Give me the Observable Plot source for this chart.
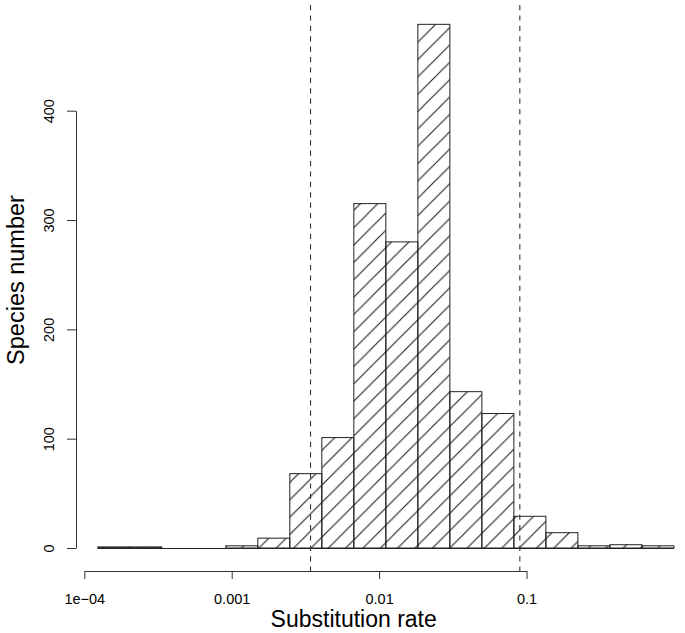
<!DOCTYPE html>
<html><head><meta charset="utf-8">
<script src="https://cdn.jsdelivr.net/npm/d3@7"></script>
<script src="https://cdn.jsdelivr.net/npm/@observablehq/plot@0.6"></script>
<style>body{margin:0;background:#fff} svg{display:block}</style>
</head><body><div id="chart"></div>
<script>
// Histogram bins: edges on natural-log scale of the substitution rate
const binEdgesLn = [-9, -8.5, -8, -7.5, -7, -6.5, -6, -5.5, -5, -4.5, -4, -3.5, -3, -2.5, -2, -1.5, -1, -0.5, 0];
const binCounts  = [1, 1, 0, 0, 2, 9, 68, 101, 315, 280, 479, 143, 123, 29, 14, 2, 3, 2];
const cutoffRates = [0.0034, 0.0894];
const xTicks = [1e-4, 1e-3, 1e-2, 1e-1];
const xTickLabels = ["1e\u221204", "0.001", "0.01", "0.1"];
const yTicks = [0, 100, 200, 300, 400];
const xTitle = "Substitution rate";
const yTitle = "Species number";

const bins = binCounts.map((n, i) => ({x1: Math.exp(binEdgesLn[i]), x2: Math.exp(binEdgesLn[i + 1]), n}));
const nonEmpty = bins.filter(b => b.n > 0);

const W = 685, H = 633, ML = 76, MR = 54, MT = 5, MB = 62;
const font = "'Liberation Sans', Arial, Helvetica, sans-serif";

const plot = Plot.plot({
  width: W, height: H,
  marginLeft: ML, marginRight: MR, marginTop: MT, marginBottom: MB,
  style: {fontFamily: font, background: "#fff", color: "#000", overflow: "visible"},
  x: {type: "log", domain: [1e-4, 0.1], range: [84.3, 526.5]},
  y: {domain: [0, 400], range: [548, 110.7]},
  marks: [
    Plot.rectY(nonEmpty, {x1: "x1", x2: "x2", y: "n", fill: "url(#hatch)", stroke: "#222", strokeWidth: 1}),
    Plot.ruleY([0], {x1: bins[0].x1, x2: bins[bins.length - 1].x2, stroke: "#222", strokeWidth: 1}),
    Plot.ruleX(cutoffRates, {stroke: "#333", strokeWidth: 1.1, strokeDasharray: "5.2,5.2"}),
    Plot.axisX({ticks: xTicks, tickFormat: d => xTickLabels[xTicks.indexOf(d)], tickSize: 8, tickPadding: 14,
      fontSize: 14.5, label: null, stroke: "#333"}),
    Plot.axisY({ticks: yTicks, tickSize: 9, tickPadding: 14, tickRotate: -90, fontSize: 14.5, label: null, stroke: "#333"})
  ]
});

document.getElementById("chart").appendChild(plot);

const svg = d3.select(plot);
const xs = plot.scale("x"), ys = plot.scale("y");

// hatch pattern (45 degree lines)
const P = 17.35;
const defs = svg.insert("defs", ":first-child");
defs.append("pattern")
  .attr("id", "hatch").attr("patternUnits", "userSpaceOnUse")
  .attr("width", P).attr("height", P)
  .attr("patternTransform", "translate(8.9,0)")
  .append("path")
  .attr("d", `M-2,2L2,-2M0,${P}L${P},0M${P - 2},${P + 2}L${P + 2},${P - 2}`)
  .attr("stroke", "#1a1a1a").attr("stroke-width", 1.05).attr("fill", "none");

// R-style axis lines spanning the tick range
const ax = svg.append("g").attr("stroke", "#333").attr("stroke-width", 1).attr("fill", "none");
ax.append("line")
  .attr("x1", xs.apply(xTicks[0]) + 0.5).attr("x2", xs.apply(xTicks[xTicks.length - 1]) + 0.5)
  .attr("y1", H - MB + 0.5).attr("y2", H - MB + 0.5);
ax.append("line")
  .attr("x1", ML + 0.5).attr("x2", ML + 0.5)
  .attr("y1", ys.apply(yTicks[0]) + 0.5).attr("y2", ys.apply(yTicks[yTicks.length - 1]) + 0.5);

// axis titles
svg.append("text").text(xTitle)
  .attr("x", 353.7).attr("y", 627).attr("text-anchor", "middle")
  .attr("font-size", 23).attr("font-family", font).attr("fill", "#000");
svg.append("text").text(yTitle)
  .attr("transform", "translate(23.5,280) rotate(-90)").attr("text-anchor", "middle")
  .attr("font-size", 23.5).attr("font-family", font).attr("fill", "#000");
</script>
</body></html>
